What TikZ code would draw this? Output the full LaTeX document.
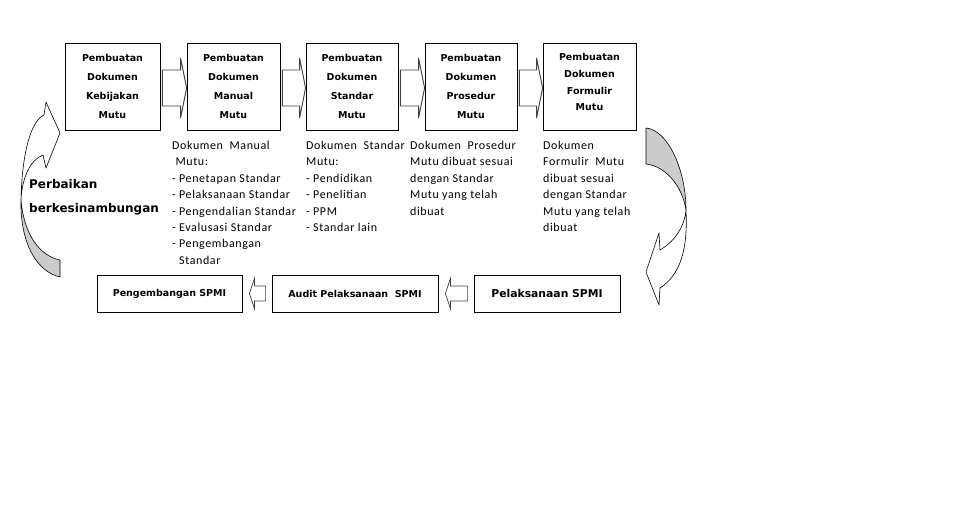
\documentclass[tikz,border=0pt]{standalone}
\usepackage{fontspec}
\setmainfont{Carlito}
\newfontfamily\boxfont{DejaVu Sans}
\newfontfamily\descfont{Carlito}[LetterSpace=5]
\usetikzlibrary{calc}

\tikzset{
  docbox/.style={draw, line width=0.8pt, minimum height=87pt, align=center,
    font=\boxfont\bfseries\fontsize{9.5}{19.3}\selectfont},
  spmibox/.style={draw, line width=0.8pt, minimum height=37pt,
    font=\boxfont\bfseries\fontsize{9.5}{12}\selectfont},
  desc/.style={anchor=north west, inner sep=0pt, align=left,
    font=\descfont\fontsize{12}{16.4}\selectfont},
  blockarrow/.style={draw=black!75, line width=0.9pt, fill=white},
  curvearrow/.style={draw=black, line width=0.6pt, line join=round},
}

\begin{document}
\begin{tikzpicture}[x=1pt, y=-1pt]
        \useasboundingbox (0,0) rectangle (978,507);

        \node[docbox, minimum width=95pt] (kebijakan) at (112.5,86.5) {Pembuatan\\Dokumen\\Kebijakan\\Mutu};
        \node[docbox, minimum width=93pt] (manual)    at (233.5,86.5) {Pembuatan\\Dokumen\\Manual\\Mutu};
        \node[docbox, minimum width=92pt] (standar)   at (352,86.5)   {Pembuatan\\Dokumen\\Standar\\Mutu};
        \node[docbox, minimum width=92pt] (prosedur)  at (471,86.5)   {Pembuatan\\Dokumen\\Prosedur\\Mutu};
        \node[docbox, minimum width=93pt, font=\boxfont\bfseries\fontsize{9.5}{16.7}\selectfont]
                                          (formulir)  at (589.5,86.5) {Pembuatan\\Dokumen\\Formulir\\Mutu\\[-8pt]\mbox{}};

        \node[spmibox, minimum width=145pt] (pengembangan) at (169.5,293.5) {Pengembangan SPMI};
        \node[spmibox, minimum width=166pt] (audit)        at (355,293.5)   {Audit Pelaksanaan\ \ SPMI};
        \node[spmibox, minimum width=146pt, font=\boxfont\bfseries\fontsize{10.8}{12}\selectfont]
                                            (pelaksanaan)  at (547,293.5)   {Pelaksanaan SPMI};

        \foreach \a/\b in {kebijakan/manual, manual/standar, standar/prosedur, prosedur/formulir}
          \draw[blockarrow] ($(\a.east)+(2,-16.5)$) -- ($(\b.west)+(-6,-16.5)$) -- ($(\b.west)+(-6,-28.5)$)
            -- ($(\b.west)+(0,1.5)$) -- ($(\b.west)+(-6,31.5)$) -- ($(\b.west)+(-6,19.5)$)
            -- ($(\a.east)+(2,19.5)$) -- cycle;

        \foreach \a/\b in {pengembangan/audit, audit/pelaksanaan}
          \draw[blockarrow, line width=0.7pt] ($(\a.east)+(7,0)$) -- ($(\a.east)+(12,-15)$) -- ($(\a.east)+(12,-7.5)$)
            -- ($(\b.west)+(-6,-7.5)$) -- ($(\b.west)+(-6,7.5)$) -- ($(\a.east)+(12,7.5)$)
            -- ($(\a.east)+(12,15)$) -- cycle;

        \node[desc] (descmanual) at (172,141) {Dokumen\ \ Manual\\\ Mutu:\\- Penetapan Standar\\- Pelaksanaan Standar\\- Pengendalian Standar\\- Evalusasi Standar\\- Pengembangan\\\phantom{- }Standar};
        \node[desc] (descstandar) at (306,141) {Dokumen\ \ Standar\\Mutu:\\- Pendidikan\\- Penelitian\\- PPM\\- Standar lain};
        \node[desc] (descprosedur) at (410,141) {Dokumen\ \ Prosedur\\Mutu dibuat sesuai\\dengan Standar\\Mutu yang telah\\dibuat};
        \node[desc] (descformulir) at (543,141) {Dokumen\\Formulir\ \ Mutu\\dibuat sesuai\\dengan Standar\\Mutu yang telah\\dibuat};

        \draw[curvearrow, fill=black!20] (646,128) .. controls (668,130) and (686,170) .. (686,210)
          .. controls (682,185) and (665,166) .. (646,164) -- cycle;
        \draw[curvearrow, fill=white] (686,210) .. controls (688,250) and (680,275) .. (660,288)
          -- (659,305) -- (646,272) -- (659,233) -- (660,250)
          .. controls (672,243) and (684,230) .. (686,210) -- cycle;

        \draw[curvearrow, fill=black!20] (60,260) -- (60,277) .. controls (38,272) and (20,245) .. (21,200)
          .. controls (24,235) and (40,256) .. (60,260) -- cycle;
        \draw[curvearrow, fill=white] (21,200) .. controls (22,150) and (32,120) .. (44,115)
          -- (46,102) -- (60,133) -- (46,168) -- (43,155)
          .. controls (30,160) and (22,178) .. (21,200) -- cycle;

        \node[anchor=base west, inner sep=0pt, align=left, font=\boxfont\bfseries\fontsize{12}{24}\selectfont]
          (perbaikan) at (29,212) {Perbaikan\\berkesinambungan};
\end{tikzpicture}
\end{document}
